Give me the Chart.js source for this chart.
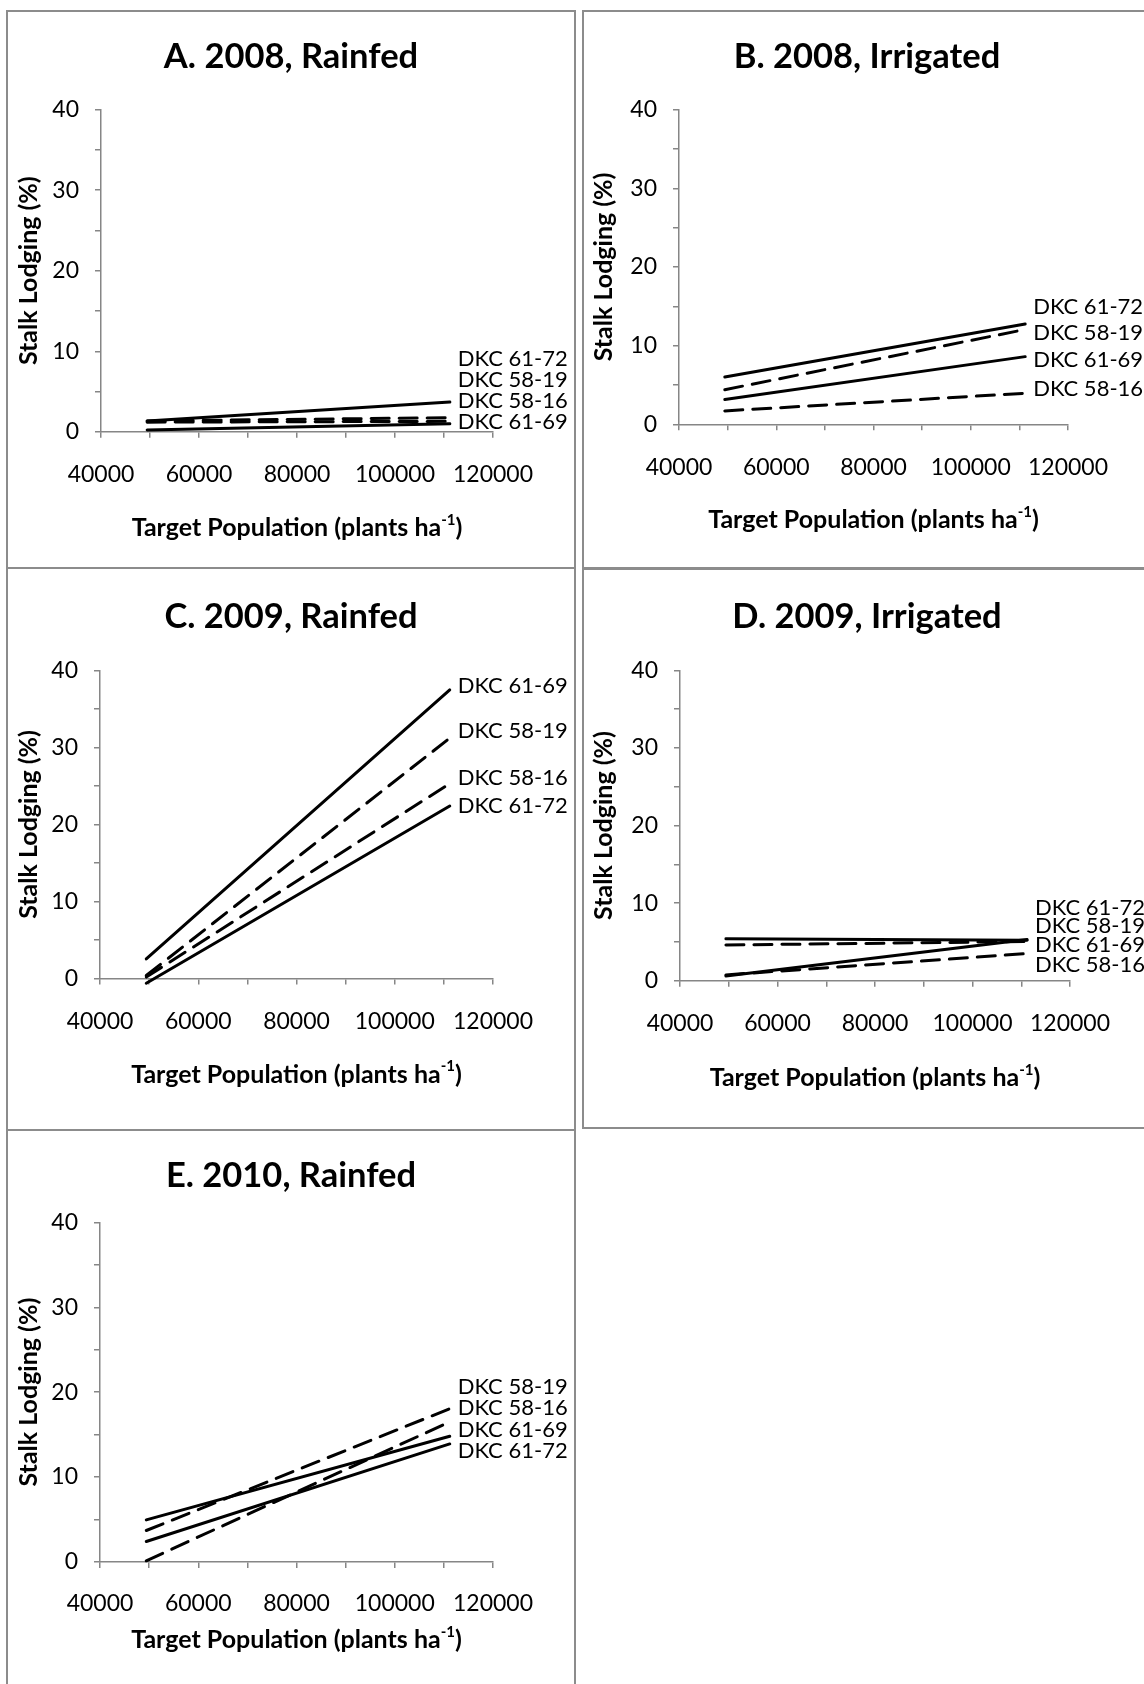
<!DOCTYPE html>
<html>
<head>
<meta charset="utf-8">
<script src="https://cdn.jsdelivr.net/npm/chart.js@4.4.1/dist/chart.umd.min.js"></script>
<style>
  html, body { margin: 0; padding: 0; background: #fff; }
  body { width: 1144px; height: 1684px; overflow: hidden; position: relative; }
  .panel { position: absolute; box-sizing: border-box; border: 2px solid #8c8c8c; background: #fff; }
  .panel canvas { display: block; }
</style>
</head>
<body>
<script>
// Hybrids, in the order each series array below uses
const hybrids = ['DKC 58-16', 'DKC 58-19', 'DKC 61-69', 'DKC 61-72'];
// 58-xx hybrids are drawn dashed, 61-xx solid
const dashedHybrids = ['DKC 58-16', 'DKC 58-19'];

// Target populations (plants ha-1) at the ends of each fitted line
const population = [49420, 111195];

// Fitted stalk lodging (%) at low and high population, one pair per hybrid
const rainfed2008   = [[1.20, 1.30], [1.35, 1.75], [0.22, 1.00], [1.33, 3.69]];
const irrigated2008 = [[1.70, 3.95], [4.40, 12.05], [3.15, 8.60], [6.00, 12.75]];
const rainfed2009   = [[0.20, 25.3], [0.40, 31.2], [2.55, 37.45], [-0.60, 22.4]];
const irrigated2009 = [[0.75, 3.50], [4.60, 5.05], [0.60, 5.30], [5.40, 5.20]];
const rainfed2010   = [[0.13, 16.5], [3.70, 18.05], [4.95, 14.8], [2.40, 13.9]];

// Axis ticks
const xTicks = { min: 40000, max: 120000, step: 10000, labelEvery: 20000 };
const yTicks = { min: 0, max: 40, step: 5, labelEvery: 10 };

const panelTitles = ['A. 2008, Rainfed', 'B. 2008, Irrigated', 'C. 2009, Rainfed', 'D. 2009, Irrigated', 'E. 2010, Rainfed'];
const panelData = [rainfed2008, irrigated2008, rainfed2009, irrigated2009, rainfed2010];

// Page layout of each panel: frame box, plot area, text rows and where the end labels sit
const layouts = [
  { box: [6, 10, 570, 559],    plot: [101, 109.6, 493, 431.8],  tickOff: 43, xTitleOff: 96, titleY: 57,   yTitleX: 29,  labelAt: [3.83, 6.43, 1.26, 9.04] },
  { box: [582, 10, 570, 559],  plot: [679, 109.6, 1068, 424.3], tickOff: 43, xTitleOff: 96, titleY: 57,   yTitleX: 604, labelAt: [4.5, 11.6, 8.18, 14.88] },
  { box: [6, 567, 570, 564],   plot: [100, 670.3, 493, 978.6],  tickOff: 43, xTitleOff: 96, titleY: 617,  yTitleX: 29,  labelAt: [26.06, 32.2, 38.0, 22.43] },
  { box: [582, 568, 570, 561], plot: [680, 670.3, 1070, 980.7], tickOff: 43, xTitleOff: 97, titleY: 617,  yTitleX: 604, labelAt: [2.07, 7.05, 4.56, 9.41] },
  { box: [6, 1129, 570, 560],  plot: [100, 1222.4, 493, 1561.9], tickOff: 42, xTitleOff: 78, titleY: 1176, yTitleX: 29, labelAt: [18.09, 20.6, 15.56, 13.04] }
];

const FONT = 'Lato, "Open Sans", "DejaVu Sans", sans-serif';
const AXIS_GREY = '#868686';
const BORDER = 2;

// Draws the panel title, axis titles and the hybrid name at the end of each line
const panelText = {
  id: 'panelText',
  afterDraw(chart, args, opts) {
    const ctx = chart.ctx;
    const ca = chart.chartArea;
    ctx.save();
    ctx.fillStyle = '#000';

    // panel title, centred on the frame
    ctx.font = 'bold 34.5px ' + FONT;
    ctx.textAlign = 'center';
    ctx.textBaseline = 'middle';
    ctx.fillText(opts.title, chart.width / 2, opts.titleY);

    // x axis title with superscript exponent
    const main = 'Target Population (plants ha';
    const sup = '-1';
    const tail = ')';
    ctx.textBaseline = 'middle';
    ctx.textAlign = 'left';
    ctx.font = 'bold 25px ' + FONT;
    const wMain = ctx.measureText(main).width;
    const wTail = ctx.measureText(tail).width;
    ctx.font = 'bold 15px ' + FONT;
    const wSup = ctx.measureText(sup).width;
    const total = wMain + wSup + wTail;
    let x = (ca.left + ca.right) / 2 - total / 2;
    const y = ca.bottom + opts.xTitleOff;
    ctx.font = 'bold 25px ' + FONT;
    ctx.fillText(main, x, y);
    x += wMain;
    ctx.font = 'bold 15px ' + FONT;
    ctx.fillText(sup, x, y - 8);
    x += wSup;
    ctx.font = 'bold 25px ' + FONT;
    ctx.fillText(tail, x, y);

    // y axis title
    ctx.save();
    ctx.translate(opts.yTitleX, (ca.top + ca.bottom) / 2);
    ctx.rotate(-Math.PI / 2);
    ctx.textAlign = 'center';
    ctx.font = 'bold 25px ' + FONT;
    ctx.fillText('Stalk Lodging (%)', 0, 0);
    ctx.restore();

    // hybrid names beside the line ends
    ctx.font = '22px ' + FONT;
    ctx.textAlign = 'left';
    ctx.textBaseline = 'middle';
    const ys = chart.scales.y;
    chart.data.datasets.forEach((ds, i) => {
      const meta = chart.getDatasetMeta(i);
      const end = meta.data[meta.data.length - 1];
      ctx.fillText(ds.label, end.x + 8, ys.getPixelForValue(opts.labelAt[i]));
    });
    ctx.restore();
  }
};

panelTitles.forEach((title, p) => {
  const lay = layouts[p];
  const [bx, by, bw, bh] = lay.box;
  const div = document.createElement('div');
  div.className = 'panel';
  div.style.left = bx + 'px';
  div.style.top = by + 'px';
  div.style.width = bw + 'px';
  div.style.height = bh + 'px';
  const canvas = document.createElement('canvas');
  const cw = bw - 2 * BORDER, ch = bh - 2 * BORDER;
  canvas.width = cw;
  canvas.height = ch;
  div.appendChild(canvas);
  document.body.appendChild(div);

  // plot area inside the canvas
  const ox = bx + BORDER, oy = by + BORDER;
  const left = lay.plot[0] - ox;
  const top = lay.plot[1] - oy;
  const right = lay.plot[2] - ox;
  const bottom = lay.plot[3] - oy;

  const datasets = hybrids.map((h, i) => ({
    label: h,
    data: population.map((pop, k) => ({ x: pop, y: panelData[p][i][k] })),
    borderColor: '#000',
    borderWidth: 3,
    borderDash: dashedHybrids.includes(h) ? [18, 10] : [],
    borderCapStyle: 'round',
    pointRadius: 0,
    tension: 0,
    clip: false
  }));

  new Chart(canvas, {
    type: 'line',
    data: { datasets },
    options: {
      responsive: false,
      animation: false,
      devicePixelRatio: 1,
      layout: { padding: { top: top, right: cw - right, left: 0, bottom: 0 } },
      plugins: {
        legend: { display: false },
        tooltip: { enabled: false },
        title: { display: false },
        panelText: {
          title,
          titleY: lay.titleY - oy,
          xTitleOff: lay.xTitleOff,
          yTitleX: lay.yTitleX - ox,
          labelAt: lay.labelAt
        }
      },
      scales: {
        x: {
          type: 'linear',
          min: xTicks.min,
          max: xTicks.max,
          afterFit: (s) => { s.height = ch - bottom; },
          ticks: {
            stepSize: xTicks.step,
            autoSkip: false,
            maxRotation: 0,
            color: '#000',
            font: { family: FONT, size: 23 },
            padding: lay.tickOff - 6 - 13.8,
            callback: (v) => (v % xTicks.labelEvery === 0 ? String(v) : '')
          },
          grid: { drawOnChartArea: false, drawTicks: true, tickLength: 6, color: AXIS_GREY, lineWidth: 1.5 },
          border: { color: AXIS_GREY, width: 1.5 }
        },
        y: {
          min: yTicks.min,
          max: yTicks.max,
          afterFit: (s) => { s.width = left; },
          ticks: {
            stepSize: yTicks.step,
            autoSkip: false,
            color: '#000',
            font: { family: FONT, size: 23 },
            padding: 16,
            callback: (v) => (v % yTicks.labelEvery === 0 ? String(v) : '')
          },
          grid: { drawOnChartArea: false, drawTicks: true, tickLength: 6, color: AXIS_GREY, lineWidth: 1.5 },
          border: { color: AXIS_GREY, width: 1.5 }
        }
      }
    },
    plugins: [panelText]
  });
});
</script>
</body>
</html>
